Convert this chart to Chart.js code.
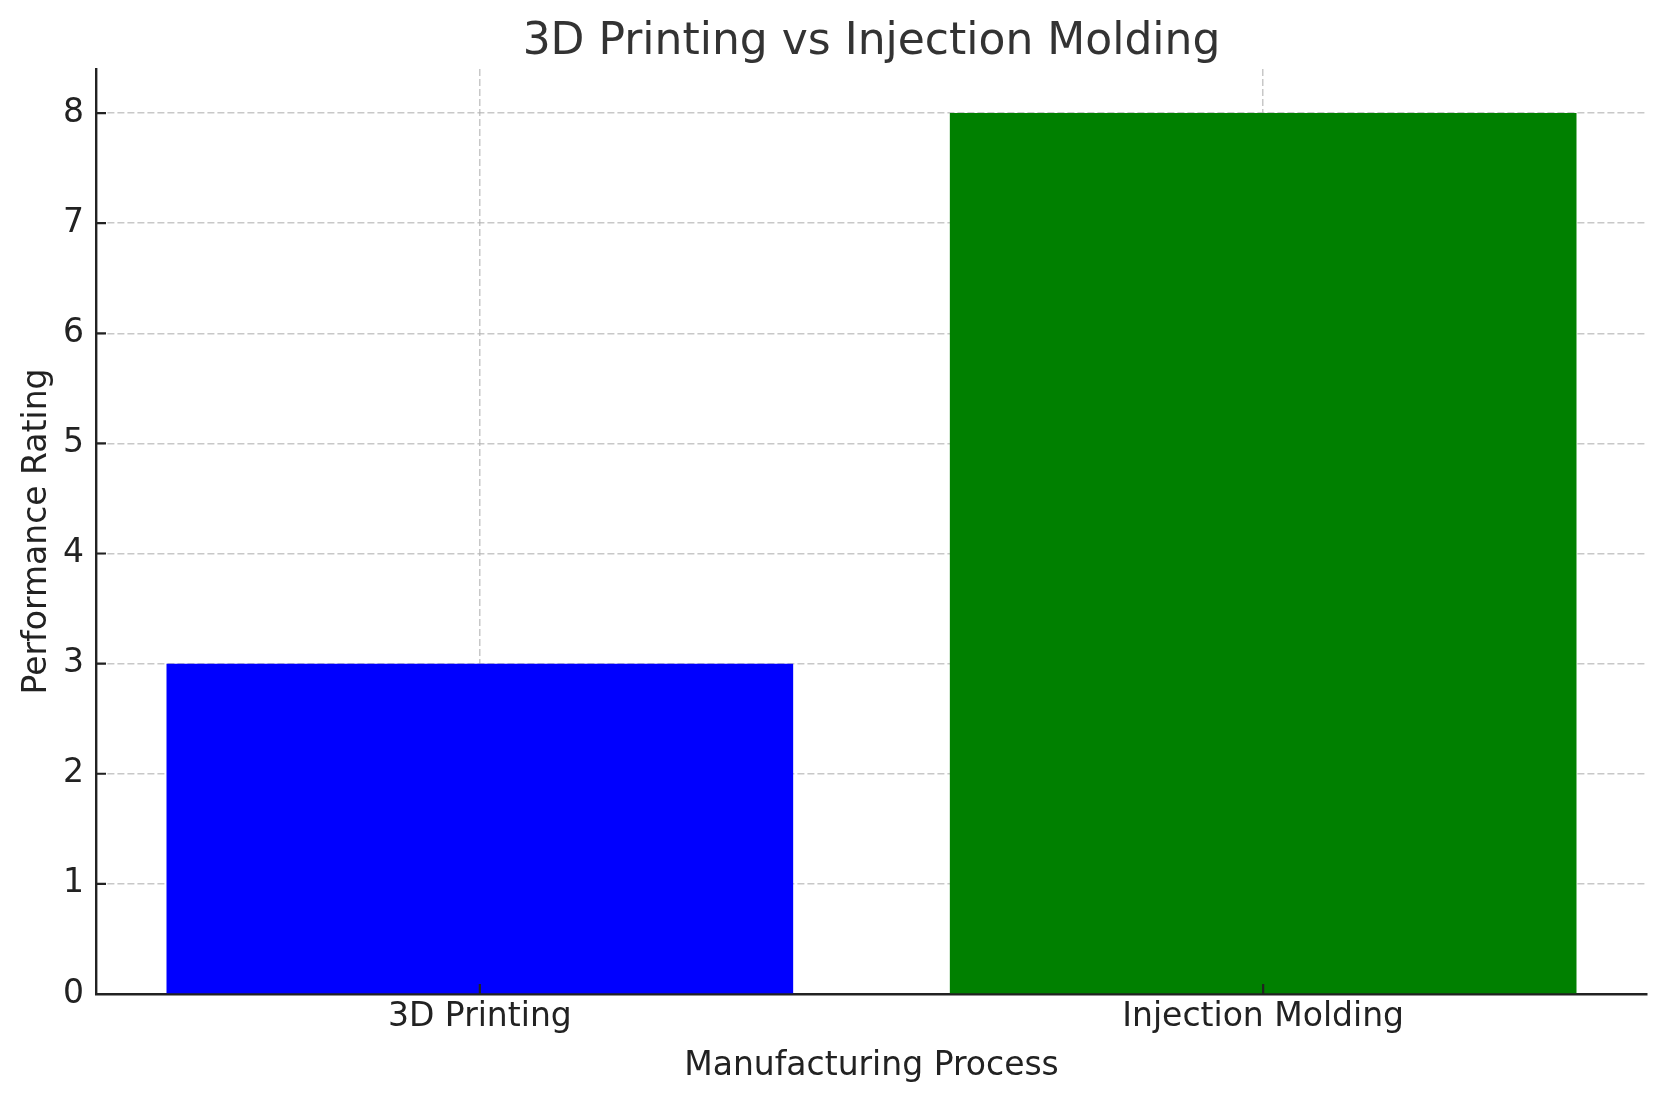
<!DOCTYPE html>
<html>
<head>
<meta charset="utf-8">
<script src="https://cdn.jsdelivr.net/npm/chart.js@4.4.0/dist/chart.umd.min.js"></script>
<style>
html,body{margin:0;padding:0;background:#fff;}
#wrap{width:1665px;height:1101px;}
</style>
</head>
<body>
<div id="wrap"><canvas id="c" width="1665" height="1101"></canvas></div>
<script>
const categories = ["3D Printing", "Injection Molding"];
const ratings = [3, 8];
const barColors = ["#0000ff", "#008000"];
const yTicks = [0, 1, 2, 3, 4, 5, 6, 7, 8];

const FONT = "'DejaVu Sans', sans-serif";
const gridColor = "rgba(176,176,176,0.7)";

const inwardTicks = {
  id: "inwardTicks",
  afterDraw(chart) {
    const ctx = chart.ctx, a = chart.chartArea;
    const xs = chart.scales.x, ys = chart.scales.y;
    ctx.save();
    ctx.strokeStyle = "#222222";
    ctx.lineWidth = 2.2;
    ctx.beginPath();
    xs.ticks.forEach((t) => {
      const px = xs.getPixelForValue(t.value);
      ctx.moveTo(px, a.bottom); ctx.lineTo(px, a.bottom - 10);
    });
    ys.ticks.forEach((t) => {
      const py = ys.getPixelForValue(t.value);
      ctx.moveTo(a.left, py); ctx.lineTo(a.left + 10, py);
    });
    ctx.stroke();
    ctx.restore();
  }
};

new Chart(document.getElementById("c"), {
  type: "bar",
  data: {
    datasets: [{
      data: categories.map((c, i) => ({x: i, y: ratings[i]})),
      backgroundColor: barColors,
      borderWidth: 0,
      categoryPercentage: 1.0,
      barPercentage: 0.8
    }]
  },
  options: {
    responsive: false,
    animation: false,
    devicePixelRatio: 1,
    layout: {padding: {left: 0, right: 18, top: 0, bottom: 0}},
    plugins: {
      legend: {display: false},
      tooltip: {enabled: false},
      title: {
        display: true,
        fullSize: false,
        text: "3D Printing vs Injection Molding",
        color: "#333333",
        font: {family: FONT, size: 44, weight: "normal", lineHeight: 1.0},
        padding: {top: 21, bottom: 4}
      }
    },
    scales: {
      x: {
        type: "linear",
        min: -0.49,
        max: 1.49,
        offset: false,
        z: 1,
        afterBuildTicks(s) { s.ticks = categories.map((c, i) => ({value: i})); },
        afterFit(s) { s.height = 107; },
        ticks: {
          callback: (v) => categories[v] !== undefined ? categories[v] : "",
          color: "#222222",
          font: {family: FONT, size: 33},
          padding: 4,
          maxRotation: 0,
          autoSkip: false
        },
        grid: {
          offset: false,
          color: gridColor,
          lineWidth: 1.5,
          drawTicks: false
        },
        border: {display: true, color: "#222222", width: 2.4, dash: [7, 3]},
        title: {
          display: true,
          text: "Manufacturing Process",
          color: "#222222",
          font: {family: FONT, size: 33, lineHeight: 1.2},
          padding: {top: 0, bottom: 15}
        }
      },
      y: {
        type: "linear",
        min: 0,
        max: 8.4,
        z: 1,
        afterBuildTicks(s) { s.ticks = yTicks.map(v => ({value: v})); },
        afterFit(s) { s.width = 96; },
        ticks: {
          color: "#222222",
          font: {family: FONT, size: 33},
          padding: 12
        },
        grid: {
          color: gridColor,
          lineWidth: 1.5,
          drawTicks: false
        },
        border: {display: true, color: "#222222", width: 2.4, dash: [7, 3]},
        title: {
          display: true,
          text: "Performance Rating",
          color: "#222222",
          font: {family: FONT, size: 33, lineHeight: 1.2},
          padding: {top: 18, bottom: 0}
        }
      }
    }
  },
  plugins: [inwardTicks]
});
</script>
</body>
</html>
